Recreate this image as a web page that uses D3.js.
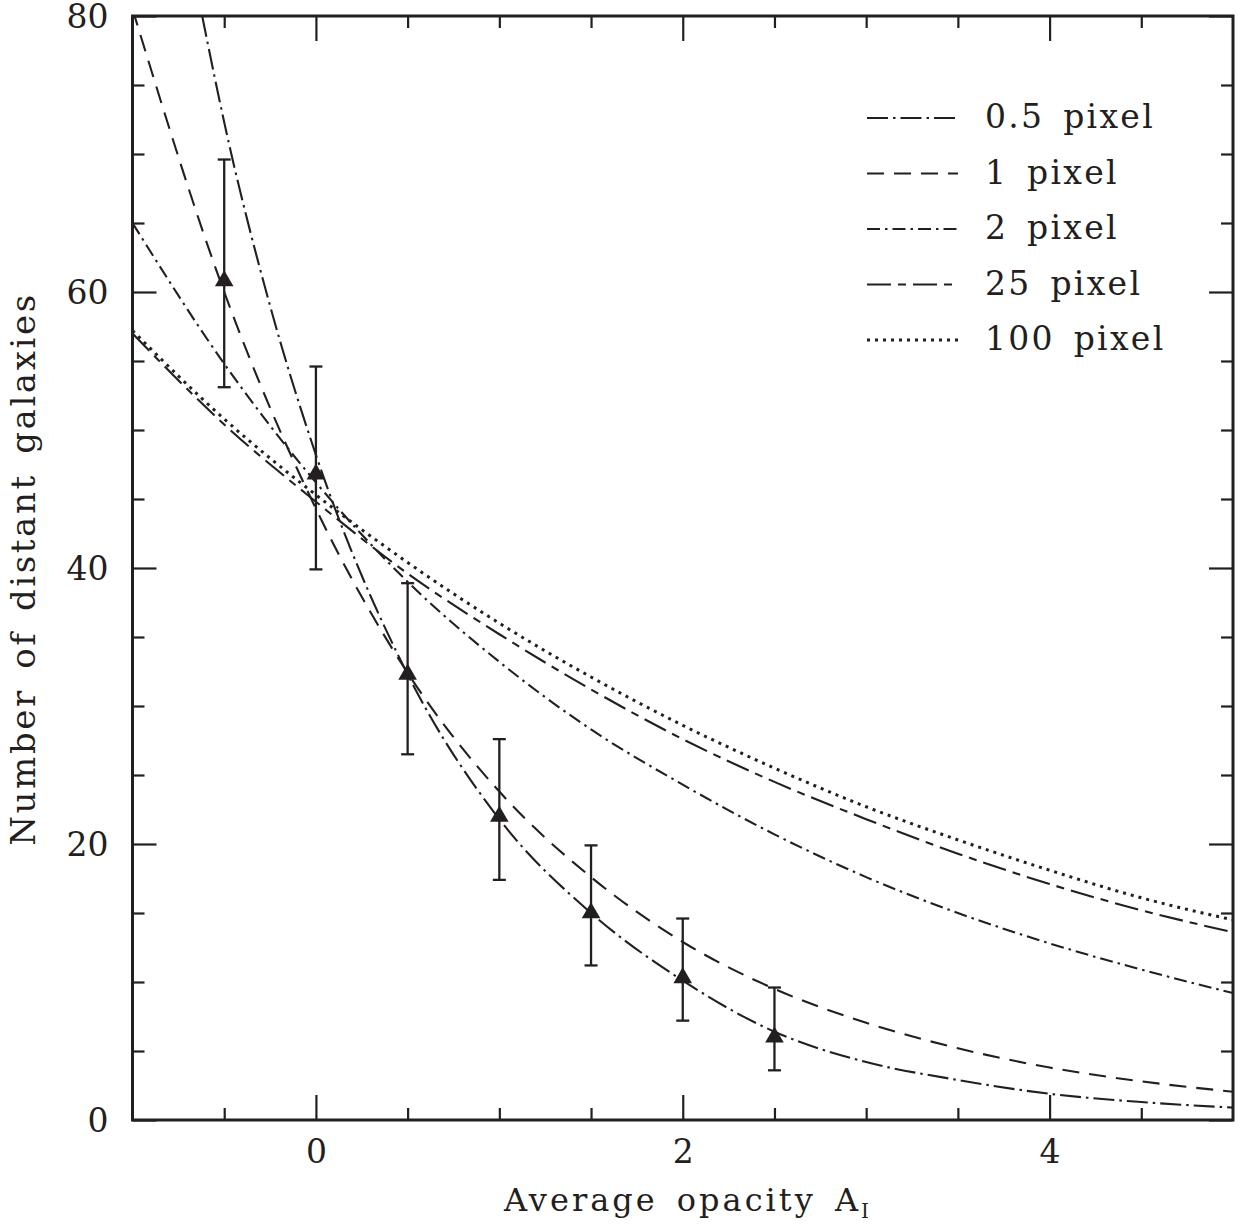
<!DOCTYPE html>
<html>
<head>
<meta charset="utf-8">
<script src="https://cdn.jsdelivr.net/npm/d3@7"></script>
<style>
  html, body { margin: 0; padding: 0; background: #fff; }
  svg { display: block; }
  text { font-family: "DejaVu Serif", "Liberation Serif", serif; fill: #231f20; }
</style>
</head>
<body>
<svg id="chart" width="1244" height="1224"></svg>
<script>
// ---------- data ----------
const xGrid = [-1, -0.5, 0, 0.5, 1, 1.5, 2, 2.5, 3, 3.5, 4, 4.5, 5];

const x05 = [-0.62, -0.5, -0.25, 0, 0.5, 1, 1.5, 2, 2.5, 3, 3.5, 4, 4.5, 5];
const y05 = [80, 72.3, 59, 48.2, 32.3, 21.8, 15.0, 10.1, 6.4, 4.2, 2.9, 1.9, 1.3, 0.9];

const y1   = [80.5, 60, 44.3, 32.4, 23.8, 17.6, 12.9, 9.5, 7.05, 5.2, 3.8, 2.8, 2.05];
const y2   = [65, 54.8, 46.2, 39.0, 33.2, 28.3, 24.3, 20.7, 17.6, 15.0, 12.8, 10.9, 9.2];
const y25  = [57.0, 50.4, 44.8, 39.6, 35.2, 31.2, 27.6, 24.5, 21.8, 19.3, 17.1, 15.2, 13.6];
const y100 = [57.2, 50.8, 45.3, 40.4, 36.0, 32.1, 28.6, 25.5, 22.7, 20.3, 18.1, 16.1, 14.5];

const seriesNames = ["0.5 pixel", "1 pixel", "2 pixel", "25 pixel", "100 pixel"];

const obsX    = [-0.5, 0, 0.5, 1, 1.5, 2, 2.5];
const obsY    = [60.8, 46.8, 32.3, 22.0, 15.0, 10.3, 6.0];
const obsHigh = [69.6, 54.6, 38.9, 27.6, 19.9, 14.6, 9.6];
const obsLow  = [53.1, 39.9, 26.5, 17.4, 11.2, 7.2, 3.6];

const xMajor = [0, 2, 4];
const xMinor = [-0.5, 0.5, 1, 1.5, 2.5, 3, 3.5, 4.5];
const yMajor = [0, 20, 40, 60, 80];
const yMinor = [5, 10, 15, 25, 30, 35, 45, 50, 55, 65, 70, 75];

const xTitle = "Average opacity A";
const xTitleSub = "I";
const yTitle = "Number of distant galaxies";

// ---------- build ----------
const svg = d3.select("#chart");
const L = 132.5, R = 1233, T = 16, B = 1120;
const x = d3.scaleLinear().domain([-1, 5]).range([L, R]);
const y = d3.scaleLinear().domain([0, 80]).range([B, T]);
const ink = "#231f20";

const styles = [
  { dash: "21,5,2.5,5", w: 2.1 },
  { dash: "17,10", w: 2.1 },
  { dash: "13,5,2.5,5", w: 2.1 },
  { dash: "24,7,8,7", w: 2.1 },
  { dash: "3,5", w: 3 }
];

const seriesData = [
  x05.map((v, i) => [v, y05[i]]),
  xGrid.map((v, i) => [v, y1[i]]),
  xGrid.map((v, i) => [v, y2[i]]),
  xGrid.map((v, i) => [v, y25[i]]),
  xGrid.map((v, i) => [v, y100[i]])
];

svg.append("defs").append("clipPath").attr("id", "plotclip")
  .append("rect").attr("x", L).attr("y", T).attr("width", R - L).attr("height", B - T);

const line = d3.line().x(d => x(d[0])).y(d => y(d[1])).curve(d3.curveMonotoneX);

const curves = svg.append("g").attr("clip-path", "url(#plotclip)");
seriesData.forEach((d, i) => {
  curves.append("path").datum(d)
    .attr("d", line)
    .attr("fill", "none")
    .attr("stroke", ink)
    .attr("stroke-width", styles[i].w)
    .attr("stroke-dasharray", styles[i].dash);
});

// error bars + triangles
const obs = obsX.map((v, i) => ({ x: v, y: obsY[i], hi: obsHigh[i], lo: obsLow[i] }));
const eb = svg.append("g").attr("stroke", ink).attr("stroke-width", 2.3);
obs.forEach(d => {
  eb.append("line").attr("x1", x(d.x)).attr("x2", x(d.x)).attr("y1", y(d.lo)).attr("y2", y(d.hi));
  eb.append("line").attr("x1", x(d.x) - 6.5).attr("x2", x(d.x) + 6.5).attr("y1", y(d.lo)).attr("y2", y(d.lo));
  eb.append("line").attr("x1", x(d.x) - 6.5).attr("x2", x(d.x) + 6.5).attr("y1", y(d.hi)).attr("y2", y(d.hi));
});
svg.append("g").selectAll("path").data(obs).join("path")
  .attr("d", d3.symbol().type(d3.symbolTriangle).size(150))
  .attr("transform", d => `translate(${x(d.x)},${y(d.y)})`)
  .attr("fill", ink);

// axes (ticks on all four sides)
function styleAxis(g) {
  g.select(".domain").remove();
  g.selectAll(".tick line").attr("stroke", ink).attr("stroke-width", 2.2);
  g.selectAll(".tick text").attr("font-size", 33).attr("fill", ink)
    .attr("font-family", "DejaVu Serif, Liberation Serif, serif");
}
svg.append("g").attr("transform", `translate(0,${B})`)
  .call(d3.axisBottom(x).tickValues(xMajor).tickSize(-25).tickPadding(20).tickFormat(d3.format("d")))
  .call(styleAxis);
svg.append("g").attr("transform", `translate(0,${B})`)
  .call(d3.axisBottom(x).tickValues(xMinor).tickSize(-12).tickFormat(""))
  .call(styleAxis);
svg.append("g").attr("transform", `translate(0,${T})`)
  .call(d3.axisTop(x).tickValues(xMajor).tickSize(-25).tickFormat(""))
  .call(styleAxis);
svg.append("g").attr("transform", `translate(0,${T})`)
  .call(d3.axisTop(x).tickValues(xMinor).tickSize(-12).tickFormat(""))
  .call(styleAxis);
const yAx = svg.append("g").attr("transform", `translate(${L},0)`)
  .call(d3.axisLeft(y).tickValues(yMajor).tickSize(-24).tickPadding(24).tickFormat(d3.format("d")))
  .call(styleAxis);
yAx.selectAll(".tick text").attr("dy", "0.36em");
svg.append("g").attr("transform", `translate(${L},0)`)
  .call(d3.axisLeft(y).tickValues(yMinor).tickSize(-12).tickFormat(""))
  .call(styleAxis);
svg.append("g").attr("transform", `translate(${R},0)`)
  .call(d3.axisRight(y).tickValues(yMajor).tickSize(-24).tickFormat(""))
  .call(styleAxis);
svg.append("g").attr("transform", `translate(${R},0)`)
  .call(d3.axisRight(y).tickValues(yMinor).tickSize(-12).tickFormat(""))
  .call(styleAxis);

// frame
svg.append("rect").attr("x", L).attr("y", T).attr("width", R - L).attr("height", B - T)
  .attr("fill", "none").attr("stroke", ink).attr("stroke-width", 3);

// axis titles
const xt = svg.append("text").attr("x", 688).attr("y", 1211)
  .attr("text-anchor", "middle").attr("font-size", 32).attr("letter-spacing", 3).attr("word-spacing", 6);
xt.append("tspan").text(xTitle);
xt.append("tspan").attr("font-size", 20).attr("dy", 7).text(xTitleSub);

svg.append("text")
  .attr("transform", `translate(35,${569}) rotate(-90)`)
  .attr("text-anchor", "middle").attr("font-size", 34).attr("letter-spacing", 2.6).attr("word-spacing", 6)
  .text(yTitle);

// legend
const leg = svg.append("g");
seriesNames.forEach((name, i) => {
  const ry = 116 + i * 55.5;
  leg.append("line").attr("x1", 867).attr("x2", 958).attr("y1", ry + 2).attr("y2", ry + 2)
    .attr("stroke", ink).attr("stroke-width", styles[i].w).attr("stroke-dasharray", styles[i].dash);
  leg.append("text").attr("x", 985).attr("y", ry + 12).attr("font-size", 33)
    .attr("letter-spacing", 2.3).attr("word-spacing", 6).text(name);
});
</script>
</body>
</html>
